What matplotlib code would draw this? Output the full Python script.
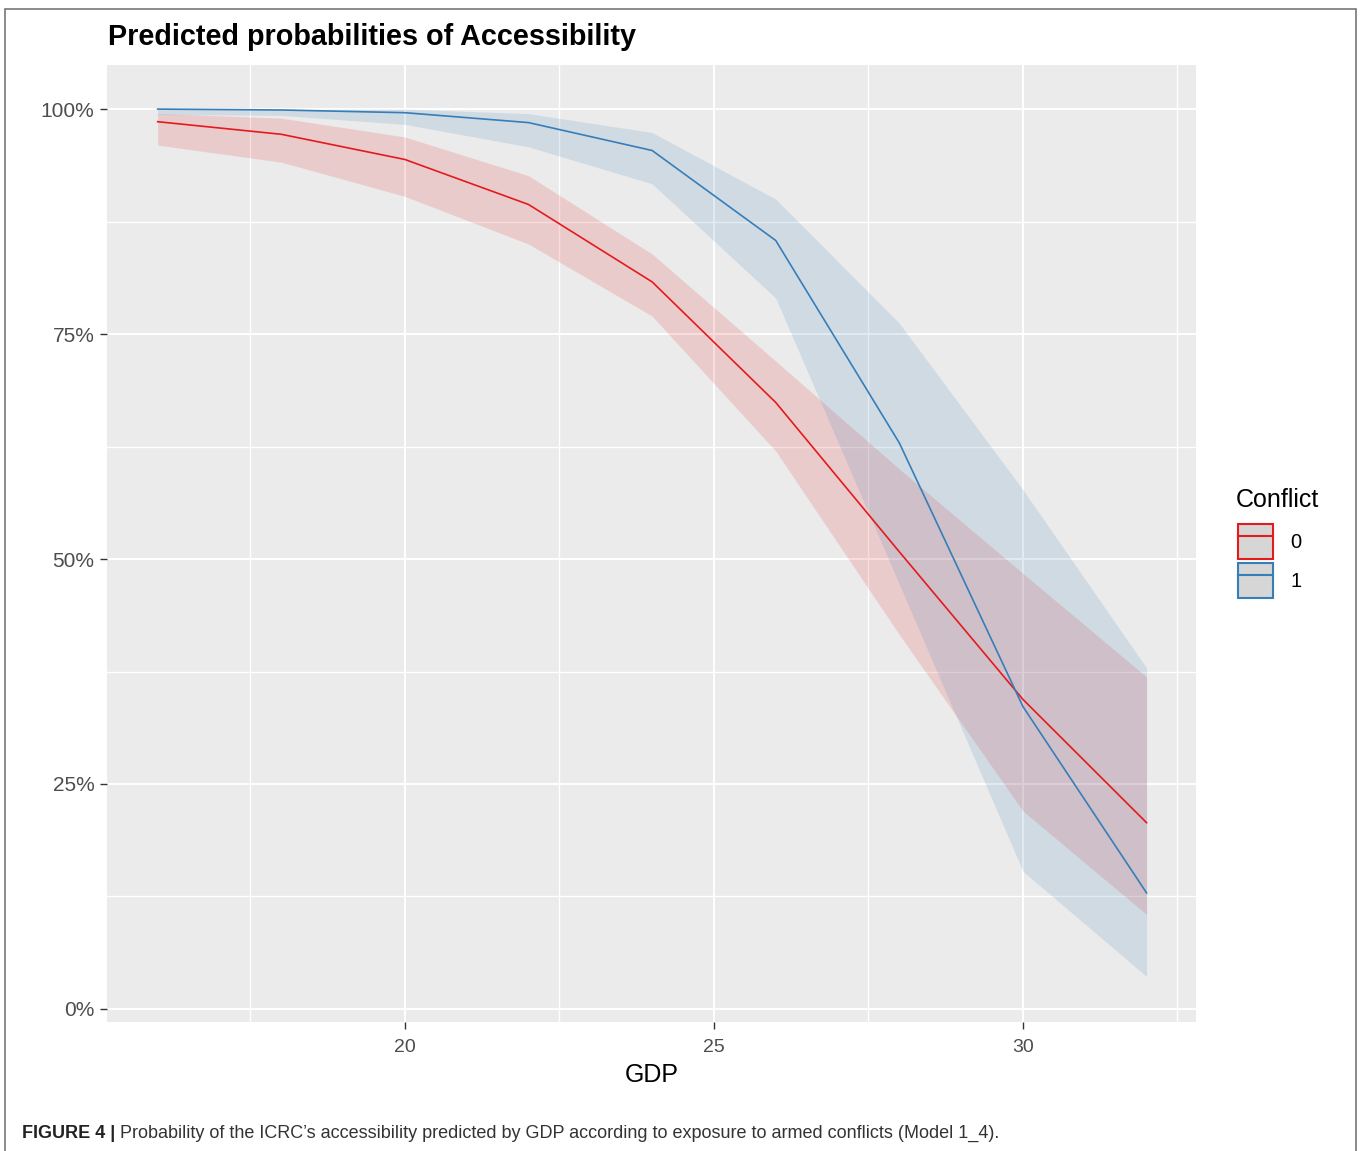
import matplotlib.pyplot as plt
from matplotlib.lines import Line2D
from matplotlib.patches import Patch, Rectangle
from matplotlib.ticker import FixedLocator, FuncFormatter

# predicted probabilities (%) by GDP, per conflict group
gdp = [16, 18, 20, 22, 24, 26, 28, 30, 32]

prob_0 = [98.6, 97.2, 94.4, 89.4, 80.8, 67.4, 50.8, 34.4, 20.7]
low_0 = [96.0, 94.1, 90.3, 85.0, 77.0, 62.0, 41.6, 22.0, 10.5]
high_0 = [99.5, 99.0, 96.9, 92.6, 83.9, 72.0, 60.0, 48.4, 36.9]

prob_1 = [100.0, 99.9, 99.6, 98.5, 95.4, 85.4, 62.9, 33.6, 12.9]
low_1 = [99.4, 99.3, 98.3, 95.8, 91.7, 79.0, 47.2, 15.3, 3.6]
high_1 = [100.0, 100.0, 100.0, 99.5, 97.4, 90.0, 76.2, 57.7, 37.9]

groups = ["0", "1"]
colors = ["#E41A1C", "#377EB8"]

x_ticks = [20, 25, 30]
x_minor = [17.5, 22.5, 27.5, 32.5]
y_ticks = [0, 25, 50, 75, 100]
y_minor = [12.5, 37.5, 62.5, 87.5]

W, H = 1360, 1151
fig = plt.figure(figsize=(W / 100, H / 100), dpi=100)
fig.patch.set_facecolor("white")

def fx(px):
    return px / W

def fy(py):
    return 1 - py / H

ax = fig.add_axes([fx(107), fy(1022), fx(1196) - fx(107), fy(65) - fy(1022)])
ax.set_facecolor("#EBEBEB")
for s in ax.spines.values():
    s.set_visible(False)

series = [(prob_0, low_0, high_0), (prob_1, low_1, high_1)]
for (p, lo, hi), c in zip(series, colors):
    ax.fill_between(gdp, lo, hi, color=c, alpha=0.15, linewidth=0, zorder=2)
for (p, lo, hi), c in zip(series, colors):
    ax.plot(gdp, p, color=c, linewidth=1.2, zorder=3)

ax.set_xlim(15.18, 32.8)
ax.set_ylim(-1.45, 104.9)

ax.xaxis.set_major_locator(FixedLocator(x_ticks))
ax.xaxis.set_minor_locator(FixedLocator(x_minor))
ax.yaxis.set_major_locator(FixedLocator(y_ticks))
ax.yaxis.set_minor_locator(FixedLocator(y_minor))
ax.yaxis.set_major_formatter(FuncFormatter(lambda v, _: f"{v:.0f}%"))

ax.grid(which="major", color="white", linewidth=1.4, zorder=1)
ax.grid(which="minor", color="white", linewidth=1.0, zorder=1)
ax.set_axisbelow(True)

ax.tick_params(which="major", length=5, width=1, color="#333333",
               labelcolor="#4D4D4D", labelsize=15, labelfontfamily="Liberation Sans")
ax.tick_params(axis="y", pad=4)
ax.tick_params(axis="x", pad=7, labelsize=14)
ax.tick_params(which="minor", length=0)

ax.set_xlabel("GDP", fontsize=18, family="Liberation Sans", labelpad=5)

fig.text(fx(108), fy(37), "Predicted probabilities of Accessibility",
         fontsize=20.7, fontweight="bold", family="Liberation Sans",
         va="center", ha="left", color="black")

# legend: title placed on its own, keys are grey boxes with coloured outline + line
fig.text(fx(1236), fy(500), "Conflict", fontsize=18, family="Liberation Sans",
         va="center", ha="left", color="black")
handles = [(Patch(facecolor="#D6D6D6", edgecolor=c, linewidth=1.5),
            Line2D([], [], color=c, linewidth=1.5)) for c in colors]
leg = fig.legend(handles, groups, loc="upper left",
                 bbox_to_anchor=(fx(1238), fy(524)), frameon=False,
                 prop={"family": "Liberation Sans", "size": 14.5},
                 handlelength=1.75, handleheight=2.3, labelspacing=0.2,
                 handletextpad=0.85, borderpad=0, borderaxespad=0)

# caption under the chart
cap = fig.text(fx(22), fy(1133), "FIGURE 4 |", fontsize=13, fontweight="bold",
               family="Liberation Sans", va="center", ha="left", color="#222222")
fig.canvas.draw()
bb = cap.get_window_extent()
fig.text((bb.x1 + 5) / W, fy(1133),
         "Probability of the ICRC\u2019s accessibility predicted by GDP according to exposure to armed conflicts (Model 1_4).",
         fontsize=13, family="Liberation Sans", va="center", ha="left", color="#333333")

# thin frame around the figure
fig.add_artist(Rectangle((fx(5), -0.01), fx(1356) - fx(5), fy(9) + 0.01,
                         transform=fig.transFigure, fill=False,
                         edgecolor="#777777", linewidth=1.2))

fig.savefig("out.png", dpi=100)
